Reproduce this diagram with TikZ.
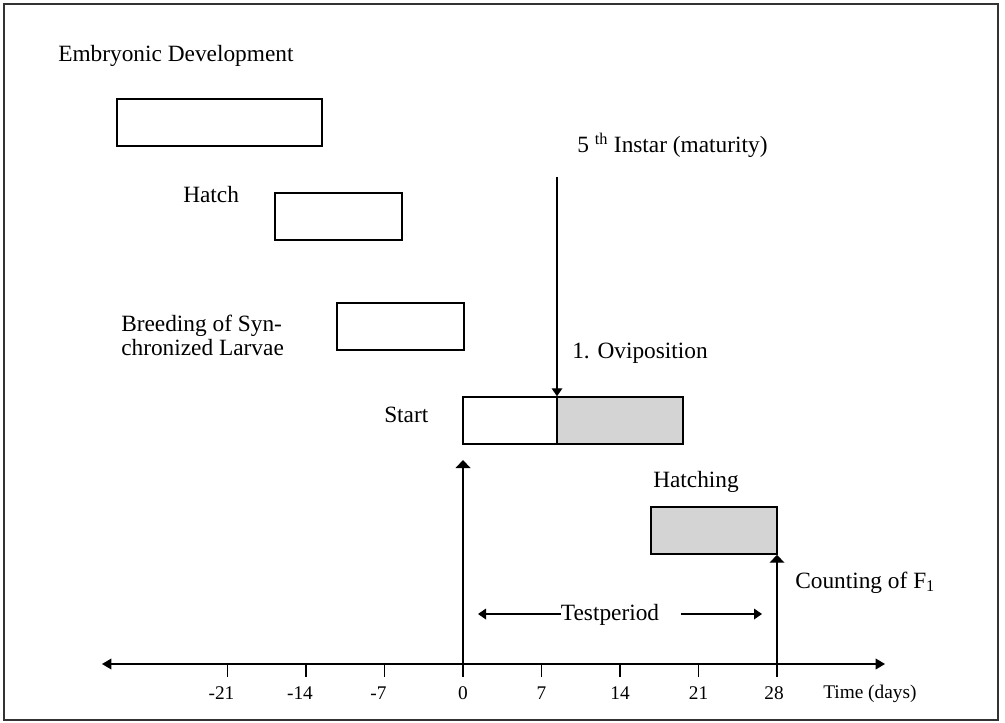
\documentclass[tikz,border=0pt]{standalone}
\usepackage{fontspec}
\setmainfont{Liberation Serif}
\usetikzlibrary{arrows.meta}
\begin{document}
\begin{tikzpicture}[x=0.75pt,y=-0.75pt,
  bx/.style 2 args={draw=black, line width=1.1pt, inner sep=0pt, minimum width=#1*0.75pt, minimum height=#2*0.75pt},
  shaded/.style={fill=black!17},
  lbl/.style={inner sep=0pt, anchor=base west, font=\fontsize{17.5}{21}\selectfont},
  ticklbl/.style={inner sep=0pt, anchor=base, font=\fontsize{14.5}{17}\selectfont},
  arr/.style={line width=1pt, -{Triangle[length=6pt,width=8pt]}},
  bigarr/.style={line width=1.1pt, -{Triangle[length=6pt,width=11pt]}},
  tickline/.style={line width=1.1pt}]
\useasboundingbox (0,0) rectangle (1005,723);
\draw[line width=1.8pt, draw=black!80] (4,4) rectangle (998,720);

% boxes
\node[bx={205}{47}] (b1) at (219.5,122.5) {};
\node[bx={127}{47}] (b2) at (338.5,216.5) {};
\node[bx={127}{47}] (b3) at (400.5,326.5) {};
\node[bx={94}{47}] (s1) at (510,420.5) {};
\node[bx={126}{47}, shaded] (s2) at (620,420.5) {};
\node[bx={126}{47}, shaded] (h1) at (714,530.5) {};

% labels
\node[lbl] (tEmb) at (58,62) {Embryonic Development};
\node[lbl] (tHatch) at (183,203) {Hatch};
\node[inner sep=0pt, anchor=west, align=left, font=\fontsize{17.5}{18}\selectfont] (tBreed) at (121,335) {Breeding of Syn-\\chronized Larvae};
\node[lbl] (tStart) at (384,422) {Start};
\node[lbl] (tInstar) at (577,153) {5 \textsuperscript{th} Instar (maturity)};
\node[lbl] (tOvi) at (572,358) {1. Oviposition};
\node[lbl] (tHatching) at (653,487) {Hatching};
\node[lbl] (tCount) at (795,588) {Counting of F\textsubscript{1}};
\node[lbl, anchor=base] (tTest) at (610,620) {Testperiod};

% axis
\coordinate (axL) at (102,664);
\coordinate (axR) at (885,664);
\draw[line width=1.1pt, {Triangle[length=7pt,width=8pt]}-{Triangle[length=7pt,width=8pt]}] (axL) -- (axR);
\foreach \d/\l/\dx in {-21/-21/-6,-14/-14/-6,-7/-7/-6,0/0/0,7/7/0,14/14/0,21/21/0,28/28/-3} {
  \coordinate (t\d) at ({463+11.214*\d},664);
  \draw[tickline] ([yshift=1pt]t\d) -- ++(0,14);
  \node[ticklbl] (l\d) at ({463+11.214*\d+\dx},699) {\l};
}
\node[inner sep=0pt, anchor=base west, font=\fontsize{14.5}{17}\selectfont] (tTime) at (823,698) {Time (days)};

% arrows
\coordinate (instarTop) at (557,177);
\draw[arr] (instarTop) -- (instarTop |- s1.north);
\coordinate (zeroTip) at (463,460);
\draw[bigarr] (t0) -- (t0 |- zeroTip);
\draw[bigarr] (t28) -- (t28 |- h1.south);

% testperiod
\coordinate (tpL) at (478,614);
\coordinate (tpR) at (762,614);
\draw[arr] (tTest.west |- tpL) -- (tpL);
\draw[arr] ([xshift=16pt]tTest.east |- tpR) -- (tpR);
\end{tikzpicture}
\end{document}
